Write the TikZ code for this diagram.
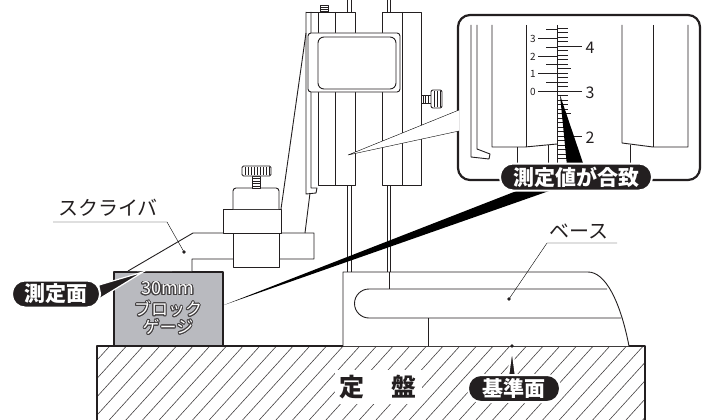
\documentclass[tikz,border=0pt]{standalone}
\usepackage{fontspec}
\setmainfont{Noto Sans CJK JP}
\usepackage{xcolor}
\usepackage{tikz}
\usepackage{contour}
\usetikzlibrary{positioning}
\pgfdeclarelayer{edgelayer}
\pgfdeclarelayer{nodelayer}
\pgfsetlayers{main,edgelayer,nodelayer}
\definecolor{ink}{RGB}{35,31,32}
\definecolor{blockgray}{RGB}{185,186,191}
\contourlength{0.9pt}
\newcommand{\tagfont}{\bfseries\fontsize{21}{23}\selectfont}
\newcommand{\namefont}{\fontsize{20}{22}\selectfont}
\tikzset{
    spot/.style = {inner sep=0pt},
    blacktag/.style = {fill=ink, draw=white, line width=2pt, text=white, rounded corners=13pt, minimum height=27pt, inner sep=0pt, font=\tagfont},
    leaderdot/.style = {circle, fill=ink, inner sep=0pt, minimum size=3.6pt},
    heavy/.style = {line width=2.2pt},
    hatchline/.style = {line width=0.6pt, ink!85}
}

\begin{document}
\begin{tikzpicture}[x=1pt, y=-1pt, line width=0.9pt, color=ink, line join=round]
    \useasboundingbox (0,0) rectangle (709,420);

    % surface plate
    \begin{scope}
        \clip (97,346) rectangle (645,420);
        \foreach \k in {-1,...,36}
            \draw[hatchline] ({110+16.67*\k-72},425) -- ++(77,-84.7);
    \end{scope}
    \draw[heavy] (97,420) -- (97,346) -- (645,346) -- (645,420);

    % column rods
    \foreach \x in {347,351,387,390} {
        \draw[line width=0.7pt] (\x,0) -- (\x,12);
        \draw[line width=0.7pt] (\x,185) -- (\x,272);
    }

    % base
    \draw[fill=white] (343,346) -- (343,272) -- (588,272) .. controls (605,272) and (620,300) .. (629,346);
    \draw (607,289) -- (369,289) arc (270:90:14.5) -- (621,318);
    \draw (389,272) -- (389,289);
    \draw (428,318) -- (428,346);

    % block gauge and scriber tip
    \draw[line width=2.5pt, fill=blockgray] (114,272) rectangle (223,346);
    \draw[line width=0.6pt, gray, fill=gray!20] (137,271) -- (145,266) -- (170,266) -- (172,271);

    % scriber and clamp
    \draw[fill=white] (128,271) -- (193,233) -- (314,233) -- (314,259) -- (192,259) -- (192,271);
    \draw[fill=white] (223,209) rectangle (281,233);
    \draw[fill=white] (233,233) rectangle (279,267);
    \draw[fill=white, rounded corners=3] (233,209) -- (233,188) -- (279,188) -- (279,209);
    \draw[fill=white] (252,176) rectangle (260,188);
    \foreach \y in {178.5,181,...,186} \draw[line width=0.5pt] (252,\y) -- (260,\y);
    \draw[fill=white, rounded corners=1.5] (242,166) rectangle (271,176);
    \foreach \x in {245,248,...,269} \draw[line width=0.6pt] (\x,167) -- (\x,175);
    \draw (281,209) -- (306,33);
    \draw (305,233) -- (310,193);

    % height gauge slider and column
    \draw (306,12) -- (318,12);
    \draw (306,12) -- (306,194) -- (316,193) -- (317,188) -- (311,188) -- (311,12);
    \draw[fill=white] (318,12) rectangle (355,185);
    \draw (335,12) -- (335,185);
    \draw[fill=white] (382,12) rectangle (421,185);
    \draw (402,12) -- (402,185);
    \draw[fill=white, rounded corners=3] (308,33) rectangle (400,92);
    \draw[rounded corners=6] (318,37) rectangle (396,89);
    \draw[fill=white] (320,5) rectangle (328,12);
    \foreach \y in {7,9,11} \draw[line width=0.5pt] (320,\y) -- (328,\y);
    \draw[fill=white] (421,95) rectangle (431,103);
    \foreach \x in {423,425.5,...,430} \draw[line width=0.5pt] (\x,95) -- (\x,103);
    \draw[fill=white, rounded corners=2] (431,90) rectangle (442,108);
    \foreach \x in {434,437,440} \draw[line width=0.5pt] (\x,91) -- (\x,107);

    % magnified view
    \draw[heavy, fill=white, rounded corners=12] (458,15) rectangle (700,180);
    \draw (471,25) -- (471,157) -- (489,159) -- (490,154) -- (477,149) -- (477,25);
    \draw (492,25) -- (492,147) -- (525,147) -- (557,144);
    \draw (526,25) -- (526,147);
    \draw (557,25) -- (557,165);
    \draw (622,25) -- (622,143) -- (653,147) -- (688,147) -- (688,25);
    \draw (653,25) -- (653,147);
    \draw (517,147) -- (517,163);
    \draw (548,145) -- (548,163);
    \draw (630,145) -- (630,163);
    \foreach \k in {-14,...,16}
        \draw[line width=0.7pt] (557,{91+4.5*\k}) -- ++(11,0);
    \foreach \k in {-5,5}
        \draw[line width=0.7pt] (557,{91+4.5*\k}) -- ++(14,0);
    \foreach \k/\n in {-10/4,0/3,10/2} {
        \draw[line width=0.7pt] (557,{91+4.5*\k}) -- ++(25,0);
        \node[font=\fontsize{16}{16}\selectfont] at (590,{92.5+4.5*\k}) {\n};
    }
    \foreach \k in {1,3,5,7}
        \draw[line width=0.7pt] (546,{91-8.75*\k}) -- (557,{91-8.75*\k});
    \foreach \k/\n in {0/0,2/1,4/2,6/3} {
        \draw[line width=0.7pt] (538,{91-8.75*\k}) -- (557,{91-8.75*\k});
        \node[font=\fontsize{10}{10}\selectfont, anchor=east, inner sep=0pt] at (536,{91.5-8.75*\k}) {\n};
    }

    \begin{pgfonlayer}{nodelayer}
        \node[font=\namefont] (1) at (108,208) {スクライバ};
        \node[spot] (2) at (53,222) {};
        \node[spot] (3) at (167,222) {};
        \node[leaderdot] (4) at (184,252) {};
        \node[font=\namefont] (5) at (579,231) {ベース};
        \node[spot] (6) at (617,243) {};
        \node[spot] (7) at (547,243) {};
        \node[leaderdot] (8) at (509,299) {};
        \node[blacktag, minimum width=88pt] (10) at (56,294) {測定面};
        \node[spot] (11) at (99,285) {};
        \node[spot] (12) at (143,272) {};
        \node[spot] (13) at (99,299) {};
        \node[blacktag, minimum width=152pt] (20) at (576,177) {測定値が合致};
        \node[spot] (21) at (224,305) {};
        \node[spot] (22) at (537,183) {};
        \node[spot] (23) at (549,191) {};
        \node[spot] (24) at (567,166) {};
        \node[spot] (25) at (560,95) {};
        \node[spot] (26) at (584,166) {};
        \node[spot] (27) at (459,110) {};
        \node[spot] (28) at (348,155) {};
        \node[spot] (29) at (459,131) {};
        \node[blacktag, minimum width=92pt] (30) at (514,388.5) {基準面};
        \node[spot] (31) at (508,377) {};
        \node[spot] (32) at (512,347) {};
        \node[spot] (33) at (516,377) {};
        \node[leaderdot] (34) at (512,346) {};
        \node[fill=white, inner sep=5pt, font=\bfseries\fontsize{25}{25}\selectfont] (40) at (378,387) {定\hspace{27pt}盤};
        \node[text=white, font=\fontsize{18}{18}\selectfont] (41) at (168,289) {\contour{ink!85}{30mm}};
        \node[text=white, font=\fontsize{17}{17}\selectfont] (42) at (168,309.5) {\contour{ink!85}{ブロック}};
        \node[text=white, font=\fontsize{17}{17}\selectfont] (43) at (168,327.5) {\contour{ink!85}{ゲージ}};
    \end{pgfonlayer}

    \begin{pgfonlayer}{edgelayer}
        \draw (2.center) to (3.center) to (4.center);
        \draw (6.center) to (7.center) to (8.center);
        \draw[white, line width=1.2pt, fill=ink] (11.center) to (12.center) to (13.center) -- cycle;
        \fill (21.center) to (22.center) to (23.center) -- cycle;
        \fill (24.center) to (25.center) to (26.center) -- cycle;
        \draw[fill=white] (27.center) to (28.center) to (29.center);
        \draw[white, line width=2pt, fill=ink] (31.center) to (32.center) to (33.center) -- cycle;
    \end{pgfonlayer}
\end{tikzpicture}
\end{document}
